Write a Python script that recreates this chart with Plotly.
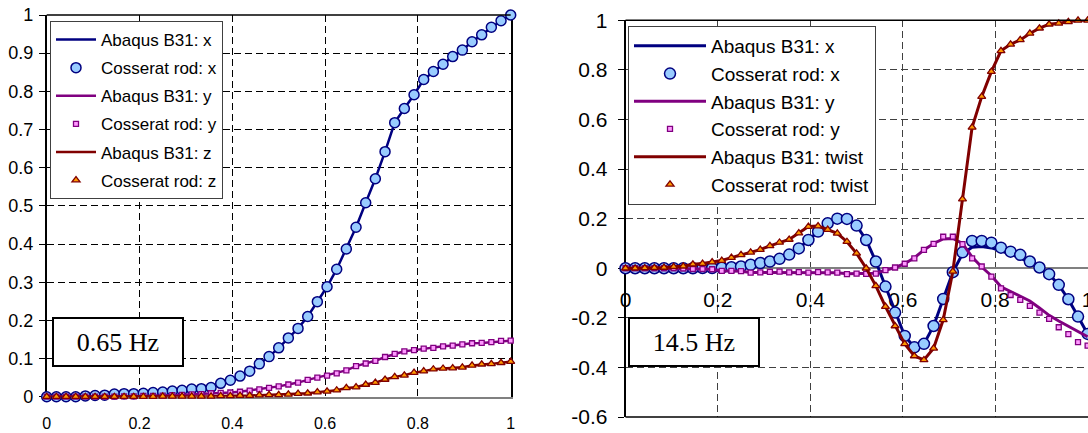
import plotly.graph_objects as go

# ---------------- data ----------------
# arc-length positions (49 stations along the rod)
s = [0, 0.0208, 0.0417, 0.0625, 0.0833, 0.1042, 0.125, 0.1458, 0.1667, 0.1875,
     0.2083, 0.2292, 0.25, 0.2708, 0.2917, 0.3125, 0.3333, 0.3542, 0.375, 0.3958,
     0.4167, 0.4375, 0.4583, 0.4792, 0.5, 0.5208, 0.5417, 0.5625, 0.5833, 0.6042,
     0.625, 0.6458, 0.6667, 0.6875, 0.7083, 0.7292, 0.75, 0.7708, 0.7917, 0.8125,
     0.8333, 0.8542, 0.875, 0.8958, 0.9167, 0.9375, 0.9583, 0.9792, 1.0]

# ---- left panel: 0.65 Hz ----
left_x = [0, 0, 0, 0, 0.002, 0.003, 0.004, 0.007, 0.008, 0.008,
          0.009, 0.011, 0.012, 0.015, 0.017, 0.02, 0.021, 0.024, 0.035, 0.043,
          0.054, 0.067, 0.086, 0.105, 0.128, 0.154, 0.179, 0.21, 0.249, 0.288,
          0.334, 0.387, 0.444, 0.508, 0.571, 0.642, 0.718, 0.755, 0.791, 0.831,
          0.852, 0.871, 0.891, 0.908, 0.93, 0.948, 0.968, 0.985, 1.0]
left_y = [0, 0, 0, 0, 0, 0, 0, 0, 0.001, 0.001,
          0.002, 0.002, 0.003, 0.004, 0.005, 0.006, 0.007, 0.009, 0.01, 0.011,
          0.013, 0.016, 0.019, 0.023, 0.027, 0.032, 0.037, 0.044, 0.05, 0.055,
          0.061, 0.069, 0.08, 0.087, 0.094, 0.104, 0.112, 0.119, 0.122, 0.126,
          0.128, 0.132, 0.134, 0.137, 0.14, 0.141, 0.143, 0.146, 0.147]
left_z = [0, 0, 0, 0, 0, 0, 0, 0, 0, 0,
          0, 0, 0.001, 0.001, 0.001, 0.001, 0.001, 0.001, 0.002, 0.002,
          0.003, 0.003, 0.004, 0.005, 0.005, 0.006, 0.008, 0.009, 0.012, 0.014,
          0.017, 0.023, 0.025, 0.032, 0.037, 0.045, 0.052, 0.056, 0.063, 0.067,
          0.072, 0.074, 0.075, 0.077, 0.082, 0.085, 0.086, 0.089, 0.092]

# ---- right panel: 14.5 Hz ----
right_x_abaqus = [0, 0, 0, 0, 0, 0, 0, 0, 0.001, 0.001,
                  0.002, 0.004, 0.007, 0.014, 0.021, 0.027, 0.038, 0.055, 0.08, 0.114,
                  0.148, 0.181, 0.2, 0.199, 0.172, 0.114, 0.027, -0.074, -0.179, -0.273,
                  -0.319, -0.305, -0.233, -0.124, -0.016, 0.058, 0.085, 0.088, 0.082, 0.07,
                  0.056, 0.042, 0.022, 0.0, -0.024, -0.067, -0.125, -0.195, -0.265]
right_x_cosserat = [0, 0, 0, 0, 0, 0, 0, 0, 0.001, 0.001,
                    0.002, 0.004, 0.007, 0.014, 0.021, 0.027, 0.038, 0.055, 0.08, 0.114,
                    0.148, 0.181, 0.2, 0.199, 0.172, 0.114, 0.027, -0.074, -0.179, -0.273,
                    -0.319, -0.305, -0.233, -0.124, -0.016, 0.064, 0.11, 0.11, 0.103, 0.083,
                    0.067, 0.054, 0.027, 0.003, -0.024, -0.067, -0.125, -0.195, -0.265]
right_y_abaqus = [0, 0, 0, 0, 0, 0, -0.001, -0.003, -0.003, -0.004,
                  -0.011, -0.011, -0.012, -0.017, -0.017, -0.016, -0.015, -0.017, -0.017, -0.018,
                  -0.017, -0.017, -0.018, -0.022, -0.022, -0.022, -0.02, -0.008, 0.003, 0.018,
                  0.042, 0.074, 0.1, 0.118, 0.12, 0.1, 0.045, 0.005, -0.03, -0.075,
                  -0.094, -0.112, -0.132, -0.16, -0.19, -0.213, -0.235, -0.256, -0.276]
right_y_cosserat = [0, 0, 0, 0, 0, 0, -0.001, -0.003, -0.003, -0.004,
                    -0.011, -0.011, -0.012, -0.018, -0.017, -0.015, -0.014, -0.017, -0.016, -0.018,
                    -0.016, -0.017, -0.018, -0.024, -0.022, -0.023, -0.022, -0.008, 0.003, 0.018,
                    0.04, 0.074, 0.098, 0.127, 0.127, 0.097, 0.04, 0.007, -0.034, -0.081,
                    -0.108, -0.128, -0.152, -0.179, -0.204, -0.238, -0.266, -0.298, -0.312]
right_twist_abaqus = [0, 0, 0.001, 0.002, 0.003, 0.006, 0.008, 0.016, 0.019, 0.025,
                      0.031, 0.043, 0.054, 0.064, 0.075, 0.09, 0.104, 0.116, 0.142, 0.168,
                      0.17, 0.156, 0.141, 0.107, 0.06, 0.0, -0.071, -0.155, -0.233, -0.305,
                      -0.354, -0.37, -0.323, -0.208, -0.013, 0.279, 0.568, 0.692, 0.793, 0.877,
                      0.903, 0.921, 0.947, 0.968, 0.984, 0.988, 0.994, 1.0, 1.0]
right_twist_cosserat = list(right_twist_abaqus)

left_xticks = [0, 0.2, 0.4, 0.6, 0.8, 1]
left_xtext = ["0", "0.2", "0.4", "0.6", "0.8", "1"]
left_yticks = [0, 0.1, 0.2, 0.3, 0.4, 0.5, 0.6, 0.7, 0.8, 0.9, 1]
left_ytext = ["0", "0.1", "0.2", "0.3", "0.4", "0.5", "0.6", "0.7", "0.8", "0.9", "1"]
right_xticks = [0, 0.2, 0.4, 0.6, 0.8, 1]
right_xtext = ["0", "0.2", "0.4", "0.6", "0.8", "1"]
right_yticks = [-0.6, -0.4, -0.2, 0, 0.2, 0.4, 0.6, 0.8, 1]
right_ytext = ["-0.6", "-0.4", "-0.2", "0", "0.2", "0.4", "0.6", "0.8", "1"]

left_names = ["Abaqus B31: x", "Cosserat rod: x", "Abaqus B31: y",
              "Cosserat rod: y", "Abaqus B31: z", "Cosserat rod: z"]
right_names = ["Abaqus B31: x", "Cosserat rod: x", "Abaqus B31: y",
               "Cosserat rod: y", "Abaqus B31: twist", "Cosserat rod: twist"]

# ---------------- styling ----------------
W, H = 1088, 433
FONT = "Liberation Sans, Arial, sans-serif"
SERIF = "Liberation Serif, Times New Roman, serif"
NAVY, LBLUE = "#000080", "#99CCFF"
PURPLE, PINK = "#800080", "#FF99FF"
DRED, ORANGE = "#800000", "#FF9900"

# plot areas in pixels
LX0, LX1, LY0, LY1 = 46.7, 510.7, 15.0, 396.7
RX0, RX1, RY0, RY1 = 625.5, 1088.0, 20.3, 417.0


def dom_x(a, b):
    return [a / W, b / W]


def dom_y(top, bot):
    return [(H - bot) / H, (H - top) / H]


fig = go.Figure()


def add_panel(xa, ya, leg, names, series, lw, sizes, gprefix):
    (ab_x, co_x, ab_y, co_y, ab_z, co_z) = series
    specs = [
        (ab_x, "line", NAVY, None, None),
        (co_x, "circle", NAVY, LBLUE, sizes[0]),
        (ab_y, "line", PURPLE, None, None),
        (co_y, "square", PURPLE, PINK, sizes[1]),
        (ab_z, "line", DRED, None, None),
        (co_z, "triangle-up", DRED, ORANGE, sizes[2]),
    ]
    for k, (vals, kind, col, fill, sz) in enumerate(specs):
        common = dict(x=s, y=vals, name=names[k], xaxis=xa, yaxis=ya,
                      legend=leg, legendgroup=f"{gprefix}{k}", cliponaxis=False)
        if kind == "line":
            fig.add_trace(go.Scatter(mode="lines", line=dict(color=col, width=lw),
                                     **common))
        else:
            fig.add_trace(go.Scatter(mode="markers",
                                     marker=dict(symbol=kind, size=sz, color=fill,
                                                 line=dict(color=col,
                                                           width=1.5 if kind == "circle" else 1.3)),
                                     **common))


add_panel("x", "y", "legend", left_names,
          (left_x, left_x, left_y, left_y, left_z, left_z), 2.5, (10, 5, 7), "L")
add_panel("x2", "y2", "legend2", right_names,
          (right_x_abaqus, right_x_cosserat, right_y_abaqus, right_y_cosserat,
           right_twist_abaqus, right_twist_cosserat), 3, (11, 5, 7), "R")

grid_common = dict(showgrid=True, gridwidth=1, griddash="7px,4px", zeroline=False)

# y position (paper) of the zero line in the right panel
ry_dom = dom_y(RY0, RY1)
zero_pos = ry_dom[0] + (0 - (-0.6)) / 1.6 * (ry_dom[1] - ry_dom[0])

fig.update_layout(
    width=W, height=H,
    margin=dict(l=0, r=0, t=0, b=0, pad=0, autoexpand=False),
    paper_bgcolor="white", plot_bgcolor="white",
    font=dict(family=FONT, color="black"),
    showlegend=True,
    xaxis=dict(domain=dom_x(LX0, LX1), range=[0, 1], anchor="y", automargin=False,
               tickvals=left_xticks, ticktext=left_xtext, ticks="",
               tickfont=dict(size=16), ticklabelstandoff=11,
               showline=True, linecolor="#808080", linewidth=1.5,
               gridcolor="black", layer="below traces", **grid_common),
    yaxis=dict(domain=dom_y(LY0, LY1), range=[0, 1], anchor="x", automargin=False,
               tickvals=left_yticks, ticktext=left_ytext, ticks="outside",
               ticklen=6, tickcolor="black", tickfont=dict(size=18),
               ticklabelstandoff=2,
               showline=True, linecolor="black", linewidth=1.5, mirror=True,
               gridcolor="black", layer="below traces", **grid_common),
    xaxis2=dict(domain=[RX0 / W, 1.0], range=[0, 1.0008], anchor="free",
                position=zero_pos, automargin=False, ticklabeloverflow="allow",
                tickvals=right_xticks, ticktext=right_xtext, ticks="",
                tickfont=dict(size=21), ticklabelstandoff=17,
                showline=False, gridcolor="#404040", layer="below traces",
                **grid_common),
    yaxis2=dict(domain=ry_dom, range=[-0.6, 1], anchor="x2", automargin=False,
                tickvals=right_yticks, ticktext=right_ytext, ticks="outside",
                ticklen=6, tickcolor="black", tickfont=dict(size=21),
                ticklabelstandoff=6,
                showline=True, linecolor="black", linewidth=1.5,
                gridcolor="#404040", layer="below traces",
                showgrid=True, gridwidth=1, griddash="7px,4px",
                zeroline=True, zerolinecolor="#808080", zerolinewidth=1.5),
    legend=dict(x=50 / W, y=1 - 21 / H, xanchor="left", yanchor="top",
                bgcolor="white", bordercolor="#404040", borderwidth=1,
                font=dict(size=17, family=FONT), traceorder="grouped",
                tracegroupgap=3, itemwidth=40),
    legend2=dict(x=628 / W, y=1 - 26 / H, xanchor="left", yanchor="top",
                 bgcolor="white", bordercolor="#404040", borderwidth=1,
                 font=dict(size=19, family=FONT), traceorder="grouped",
                 tracegroupgap=0, itemwidth=72),
    shapes=[
        # left panel top border
        dict(type="line", xref="x domain", yref="y domain", x0=0, x1=1, y0=1, y1=1,
             line=dict(color="black", width=1.5)),
        # right panel top & bottom borders
        dict(type="line", xref="x2 domain", yref="y2 domain", x0=0, x1=1, y0=1, y1=1,
             line=dict(color="black", width=1.5)),
        dict(type="line", xref="x2 domain", yref="y2 domain", x0=0, x1=1, y0=0, y1=0,
             line=dict(color="black", width=1.5)),
    ],
    annotations=[
        dict(text="0.65 Hz", xref="paper", yref="paper", x=118 / W, y=1 - 342 / H,
             xanchor="center", yanchor="middle",
             showarrow=False, font=dict(family=SERIF, size=26, color="black"),
             bgcolor="white", bordercolor="black", borderwidth=2, borderpad=0,
             width=128, height=46),
        dict(text="14.5 Hz", xref="paper", yref="paper", x=694 / W, y=1 - 342 / H,
             xanchor="center", yanchor="middle",
             showarrow=False, font=dict(family=SERIF, size=26, color="black"),
             bgcolor="white", bordercolor="black", borderwidth=2, borderpad=0,
             width=128, height=46),
    ],
)

fig.write_html("out.html", config={"displayModeBar": False},
               post_script="document.body.style.margin='0px';")
